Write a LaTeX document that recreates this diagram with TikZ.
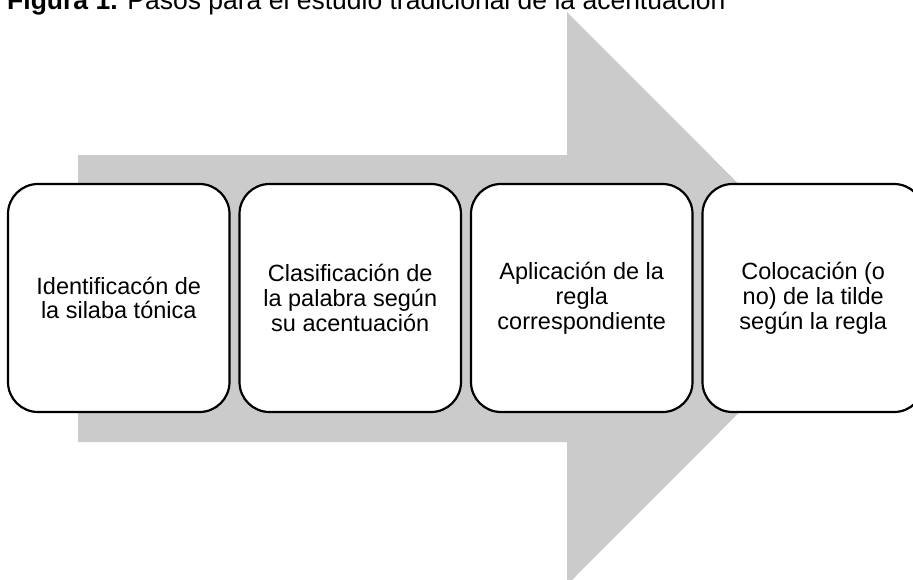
\documentclass[tikz,border=0pt]{standalone}
\usepackage{fontspec}
\setmainfont{Liberation Sans}
\definecolor{arrowgray}{RGB}{203,203,203}
\begin{document}
\begin{tikzpicture}[x=1pt,y=-1pt,
  stepbox/.style={draw=black, line width=2.2pt, fill=white, rounded corners=30pt,
    minimum width=221.5pt, minimum height=228pt, align=center, inner sep=0pt,
    font=\fontsize{23.5}{24.8}\selectfont},
  titletext/.style={anchor=base west, inner sep=0pt, font=\fontsize{26.5}{28}\selectfont}]
\useasboundingbox (0,0) rectangle (913,579);
\clip (0,0) rectangle (913,579);
% big arrow
\fill[arrowgray] (78,155) -- (567,155) -- (567,12) -- (853,298.5) -- (567,585) -- (567,442) -- (78,442) -- cycle;
% title
\node[titletext] (title) at (7,9) {\textbf{Figura 1.} Pasos para el estudio tradicional de la acentuación};
% boxes
\node[stepbox] (b1) at (118.75,298) {Identificacón de\\la silaba tónica};
\node[stepbox] (b2) at (350.25,298) {Clasificación de\\la palabra según\\su acentuación};
\node[stepbox] (b3) at (581.75,298) {Aplicación de la\\regla\\correspondiente};
\node[stepbox] (b4) at (813.25,298) {Colocación (o\\no) de la tilde\\según la regla};
\end{tikzpicture}
\end{document}
